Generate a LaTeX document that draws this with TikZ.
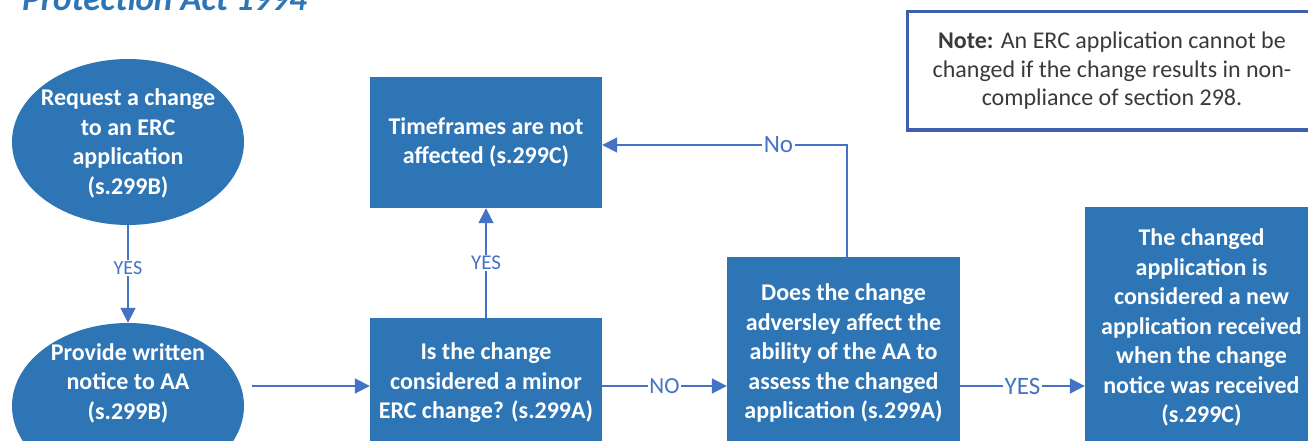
\documentclass[tikz,border=0pt]{standalone}
\usepackage{fontspec}
\setmainfont{Carlito}
\usetikzlibrary{arrows.meta,shapes.geometric}
\definecolor{boxblue}{HTML}{2E75B6}
\definecolor{linkblue}{HTML}{4472C4}
\definecolor{noteblue}{HTML}{3D5FAE}
\definecolor{notegray}{HTML}{3A3A3A}
\begin{document}
\begin{tikzpicture}[x=1pt,y=-1pt,
  proc/.style={rectangle, fill=boxblue, draw=none, text=white, align=center, inner sep=0pt,
    font=\bfseries\fontsize{24}{29.5}\selectfont},
  ellbox/.style={ellipse, fill=boxblue, draw=none, inner sep=0pt},
  elltext/.style={text=white, align=center, inner sep=0pt, font=\bfseries\fontsize{24}{29.5}\selectfont},
  link/.style={draw=linkblue, line width=1.8pt, -{Triangle[length=15pt,width=15pt]}},
  lbl/.style={fill=white, text=linkblue, inner sep=1.5pt},
]
\useasboundingbox (0,0) rectangle (1308,441);
\clip (0,0) rectangle (1308,441);
\fill[white] (0,0) rectangle (1308,441);

% title (cut off at top, as in the reference)
\node[anchor=base west, text=boxblue, inner sep=0pt,
  font=\bfseries\itshape\fontsize{35}{40}\selectfont] (title) at (22,11) {Protection Act 1994};

% note
\node[draw=noteblue, line width=3pt, minimum width=410pt, minimum height=118pt,
  text=notegray, align=center, inner sep=0pt, font=\fontsize{24}{28.5}\selectfont]
  (note) at (1112,71) {\textbf{Note:} An ERC application cannot be\\changed if the change results in non-\\compliance of section 298.};

% ellipses
\node[ellbox, minimum width=232pt, minimum height=166pt] (req) at (128,142) {};
\node[elltext] (reqtext) at (128,143.5) {Request a change\\to an ERC\\application\\(s.299B)};
\node[ellbox, minimum width=232pt, minimum height=166pt] (prov) at (128,406) {};
\node[elltext] (provtext) at (128,383) {Provide written\\notice to AA\\(s.299B)};

% boxes
\node[proc, minimum width=232pt, minimum height=131pt] (tf) at (486,142.5) {Timeframes are not\\affected (s.299C)};
\node[proc, minimum width=232pt, minimum height=130pt] (minor) at (486,383) {Is the change\\considered a minor\\ERC change? (s.299A)};
\node[proc, minimum width=233pt, minimum height=192pt] (adv) at (843.5,353) {Does the change\\adversley affect the\\ability of the AA to\\assess the changed\\application (s.299A)};
\node[proc, minimum width=233pt, minimum height=241pt] (new) at (1201.5,327.5) {The changed\\application is\\considered a new\\application received\\when the change\\notice was received\\(s.299C)};

% connectors
\draw[link] (req.south) -- node[lbl, pos=0.44, font=\fontsize{20}{22}\selectfont]{YES} (prov.north);
\coordinate (a1) at (252,386);
\draw[link] (a1) -- (a1 -| minor.west);
\draw[link] (minor.north) -- node[lbl, font=\fontsize{21}{24}\selectfont]{YES} (tf.south);
\draw[link] (minor.east |- a1) -- node[lbl, font=\fontsize{23}{26}\selectfont]{NO} (adv.west |- a1);
\draw[link] (adv.east |- a1) -- node[lbl, font=\fontsize{25}{28}\selectfont]{YES} (new.west |- a1);
\coordinate (c1) at (847,145);
\draw[link] (adv.north -| c1) |- node[lbl, pos=0.64, font=\fontsize{25}{28}\selectfont]{No} (tf.east |- c1);
\end{tikzpicture}
\end{document}
